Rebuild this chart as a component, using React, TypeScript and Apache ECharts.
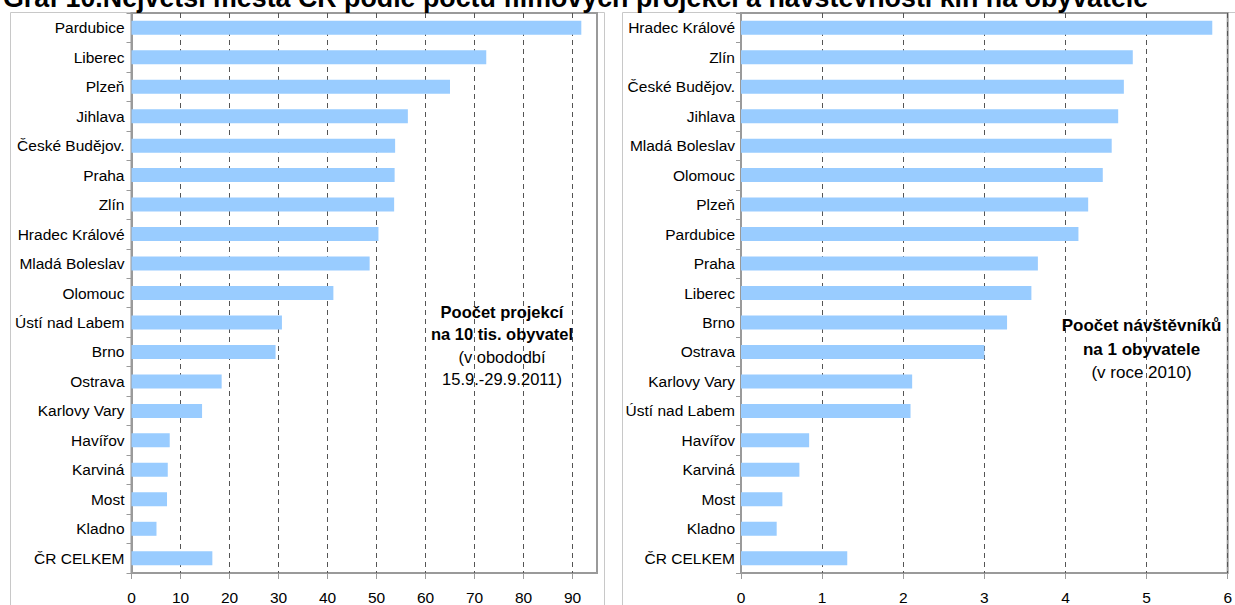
import React, { useEffect, useRef } from "react";
import * as echarts from "echarts";

const titleText =
  "Graf 10.Největší města ČR podle počtu filmových projekcí a návštěvnosti kin na obyvatele";

const leftCategories = [
  "Pardubice", "Liberec", "Plzeň", "Jihlava", "České Budějov.", "Praha", "Zlín",
  "Hradec Králové", "Mladá Boleslav", "Olomouc", "Ústí nad Labem", "Brno", "Ostrava",
  "Karlovy Vary", "Havířov", "Karviná", "Most", "Kladno", "ČR CELKEM",
];
const leftValues = [
  91.8, 72.4, 65.0, 56.4, 53.8, 53.7, 53.6, 50.4, 48.6, 41.2, 30.7, 29.4, 18.4,
  14.4, 7.8, 7.4, 7.25, 5.1, 16.5,
];
const leftTicks = [0, 10, 20, 30, 40, 50, 60, 70, 80, 90];
const leftMax = 95;

const rightCategories = [
  "Hradec Králové", "Zlín", "České Budějov.", "Jihlava", "Mladá Boleslav", "Olomouc",
  "Plzeň", "Pardubice", "Praha", "Liberec", "Brno", "Ostrava", "Karlovy Vary",
  "Ústí nad Labem", "Havířov", "Karviná", "Most", "Kladno", "ČR CELKEM",
];
const rightValues = [
  5.81, 4.83, 4.72, 4.65, 4.57, 4.46, 4.28, 4.16, 3.66, 3.58, 3.28, 3.0, 2.11,
  2.09, 0.84, 0.72, 0.51, 0.44, 1.31,
];
const rightMax = 6;

const leftNote = ["Poočet projekcí", "na 10 tis. obyvatel", "(v obododbí", "15.9.-29.9.2011)"];
const rightNote = ["Poočet návštěvníků", "na 1 obyvatele", "(v roce 2010)"];

const FONT = "Arial";
const BAR = "#99CCFF";
const BORDER = "#9a9a9a";

export default function App() {
  const ref = useRef<HTMLDivElement>(null);
  useEffect(() => {
    if (!ref.current) return;
    const chart = echarts.init(ref.current, undefined, { renderer: "svg" });
    const catAxis = (cats: string[], gridIndex: number, margin: number) => ({
      type: "category",
      gridIndex,
      data: cats,
      inverse: true,
      axisLine: { show: true, lineStyle: { color: BORDER, width: 2 } },
      axisTick: { show: true, length: 5, lineStyle: { color: BORDER, width: 1 } },
      axisLabel: { color: "#000", fontSize: 15.5, fontFamily: FONT, fontWeight: "normal", margin },
      splitLine: { show: false },
    });
    const valAxis = (gridIndex: number, max: number, interval: number, ticks?: number[]) => ({
      type: "value",
      gridIndex,
      min: 0,
      max,
      interval,
      axisLine: { show: false },
      axisTick: {
        show: true,
        length: 6,
        lineStyle: { color: BORDER, width: 1 },
        ...(ticks ? { customValues: ticks } : {}),
      },
      axisLabel: {
        color: "#000",
        fontSize: 15.5,
        fontFamily: FONT,
        fontWeight: "normal",
        margin: 16,
        showMaxLabel: ticks ? false : true,
      },
      splitLine: {
        show: true,
        lineStyle: { color: "#555", width: 1, type: [5, 4] },
      },
    });
    const noteText = (lines: string[], boldCount: number, cx: number, ys: number[], size: number) =>
      lines.map((t, i) => ({
        type: "text",
        x: cx,
        y: ys[i],
        style: {
          text: t,
          fill: "#000",
          fontFamily: FONT,
          fontSize: size,
          fontWeight: i < boldCount ? "bold" : "normal",
          align: "center",
          verticalAlign: "middle",
        },
        z: 100,
      }));
    chart.setOption({
      animation: false,
      backgroundColor: "#fff",
      textStyle: { fontFamily: FONT },
      grid: [
        { left: 131.5, top: 13, width: 465.5, height: 560, show: true, borderColor: BORDER, borderWidth: 2, backgroundColor: "transparent" },
        { left: 741, top: 13, width: 491, height: 560, show: true, borderColor: BORDER, borderWidth: 2, backgroundColor: "transparent" },
      ],
      xAxis: [valAxis(0, leftMax, 10, leftTicks), valAxis(1, rightMax, 1)],
      yAxis: [catAxis(leftCategories, 0, 7), catAxis(rightCategories, 1, 6)],
      series: [
        { type: "bar", xAxisIndex: 0, yAxisIndex: 0, data: leftValues, barWidth: 14, itemStyle: { color: BAR }, z: 3 },
        { type: "bar", xAxisIndex: 1, yAxisIndex: 1, data: rightValues, barWidth: 14, itemStyle: { color: BAR }, z: 3 },
      ],
      graphic: [
        { type: "rect", shape: { x: 10.5, y: 12.5, width: 594, height: 620 }, style: { fill: "none", stroke: "#c8c8c8", lineWidth: 1 }, z: -1 },
        { type: "rect", shape: { x: 622.5, y: 12.5, width: 640, height: 620 }, style: { fill: "none", stroke: "#c8c8c8", lineWidth: 1 }, z: -1 },
        {
          type: "text",
          x: 3,
          y: -2,
          style: { text: titleText, fill: "#000", fontFamily: FONT, fontSize: 26.8, fontWeight: "bold", align: "left", verticalAlign: "middle" },
          z: 100,
        },
        ...noteText(leftNote, 2, 502, [312, 334, 357, 379], 16.5),
        ...noteText(rightNote, 2, 1141.5, [325, 349, 372], 17),
      ],
    });
    return () => chart.dispose();
  }, []);
  return (
    <div
      ref={ref}
      style={{ position: "fixed", left: 0, top: 0, width: 1235, height: 605 }}
    />
  );
}
